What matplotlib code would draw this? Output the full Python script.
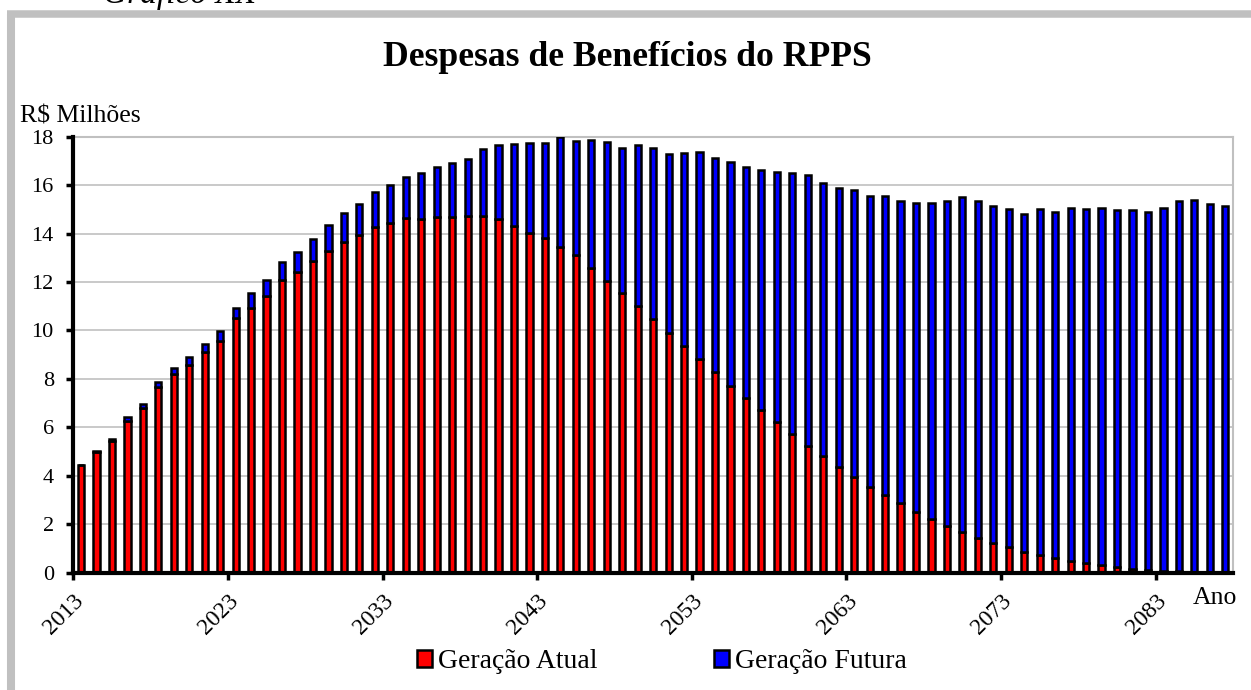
import matplotlib
matplotlib.use("Agg")
import matplotlib.pyplot as plt
from matplotlib.lines import Line2D
import numpy as np

years = list(range(2013, 2088))
geracao_atual = [
    4.44, 4.98, 5.45, 6.27, 6.78, 7.68, 8.19, 8.57, 9.10, 9.58,
    10.50, 10.94, 11.42, 12.08, 12.43, 12.88, 13.28, 13.64, 13.94, 14.27,
    14.45, 14.63, 14.60, 14.70, 14.70, 14.71, 14.71, 14.61, 14.33, 14.04,
    13.80, 13.46, 13.10, 12.59, 12.04, 11.53, 11.01, 10.47, 9.91, 9.37,
    8.83, 8.30, 7.72, 7.22, 6.72, 6.21, 5.71, 5.24, 4.82, 4.38,
    3.95, 3.55, 3.19, 2.86, 2.52, 2.22, 1.93, 1.68, 1.44, 1.24,
    1.05, 0.87, 0.74, 0.61, 0.48, 0.39, 0.30, 0.22, 0.17, 0.12,
    0.08, 0.05, 0.03, 0.02, 0.01,
]
geracao_futura = [
    0.02, 0.04, 0.08, 0.14, 0.17, 0.19, 0.26, 0.33, 0.35, 0.41,
    0.44, 0.59, 0.66, 0.75, 0.79, 0.91, 1.06, 1.19, 1.28, 1.43,
    1.57, 1.71, 1.92, 2.06, 2.21, 2.38, 2.77, 3.06, 3.37, 3.71,
    3.95, 4.54, 4.73, 5.27, 5.75, 6.00, 6.63, 7.07, 7.39, 7.94,
    8.52, 8.82, 9.22, 9.53, 9.92, 10.33, 10.78, 11.18, 11.27, 11.51,
    11.83, 12.01, 12.37, 12.48, 12.73, 13.03, 13.40, 13.84, 13.89, 13.91,
    13.98, 13.95, 14.26, 14.27, 14.56, 14.62, 14.77, 14.75, 14.79, 14.78,
    14.96, 15.29, 15.35, 15.21, 15.11,
]
label_years = [2013, 2023, 2033, 2043, 2053, 2063, 2073, 2083]
y_ticks = [0, 2, 4, 6, 8, 10, 12, 14, 16, 18]

plt.rcParams['font.family'] = ['Liberation Serif', 'DejaVu Serif']

W, H = 1251, 690
fig = plt.figure(figsize=(W / 100, H / 100), dpi=100)

def fx(px):
    return px / W

def fy(py):
    return 1 - py / H

# gray outer frame
fig.add_artist(Line2D([fx(11), fx(11)], [fy(13.5), fy(700)], color='#c0c0c0', lw=5.8,
                      solid_capstyle='butt', transform=fig.transFigure))
fig.add_artist(Line2D([fx(7), fx(1260)], [fy(13.5), fy(13.5)], color='#c0c0c0', lw=5.4,
                      solid_capstyle='butt', transform=fig.transFigure))

# "Gráfico" caption cropped at the top
fig.text(fx(103), fy(3), 'Gráfico XX', fontsize=24, style='italic', ha='left', va='baseline')

left, right, top, bottom = 73.3, 1233, 136.7, 572.7
ax = fig.add_axes([fx(left), fy(bottom), fx(right - left), (bottom - top) / H])

x = np.arange(len(years))
ax.bar(x, geracao_atual, width=0.40, color='#ff0000', edgecolor='black', linewidth=1.8,
       label='Geração Atual', zorder=3)
ax.bar(x, geracao_futura, bottom=geracao_atual, width=0.40, color='#0000ff', edgecolor='black',
       linewidth=1.8, label='Geração Futura', zorder=3)

ax.set_xlim(-0.5, len(years) - 0.5)
ax.set_ylim(0, 18)
ax.set_yticks(y_ticks)
ax.set_yticklabels([str(v) for v in y_ticks], fontsize=16)
tick_pos = [years.index(y) - 0.5 for y in label_years]
ax.set_xticks(tick_pos)
ax.set_xticklabels([str(y) for y in label_years], rotation=45, ha='right', va='top',
                   rotation_mode='anchor', fontsize=17)
ax.tick_params(axis='both', direction='out', length=5, width=2.5, color='black')
ax.tick_params(axis='y', pad=9)
ax.tick_params(axis='x', pad=8)
ax.grid(axis='y', color='#c0c0c0', lw=1.2, zorder=0)
ax.set_axisbelow(True)
ax.spines['left'].set_linewidth(3)
ax.spines['bottom'].set_linewidth(3)
ax.spines['left'].set_zorder(5)
ax.spines['bottom'].set_zorder(5)
ax.spines['right'].set_color('#c0c0c0')
ax.spines['right'].set_linewidth(1.5)
ax.spines['top'].set_color('#c0c0c0')
ax.spines['top'].set_linewidth(1.5)

fig.text(fx(627), fy(57), 'Despesas de Benefícios do RPPS', fontsize=25.7, fontweight='bold',
         ha='center', va='center')
fig.text(fx(20), fy(116), 'R$ Milhões', fontsize=18.5, ha='left', va='center')
fig.text(fx(1193), fy(598), 'Ano', fontsize=18.5, ha='left', va='center')

handles, labels = ax.get_legend_handles_labels()
leg = fig.legend(handles, labels, loc='center', bbox_to_anchor=(fx(662), fy(662)), ncol=2,
                 frameon=False, fontsize=20, handlelength=0.55, handleheight=0.55,
                 handletextpad=0.2, columnspacing=4.2, borderpad=0.1)

fig.savefig('out.png', dpi=100)
